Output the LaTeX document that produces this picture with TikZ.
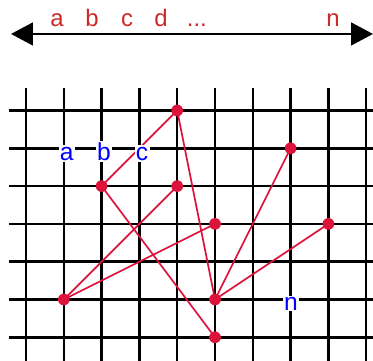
\documentclass[tikz,border=0pt]{standalone}
\usepackage{fontspec}
\setmainfont{Liberation Sans}
\usetikzlibrary{arrows.meta}
\definecolor{crim}{RGB}{220,20,60}
\definecolor{labred}{RGB}{205,40,40}

\begin{document}
\begin{tikzpicture}[line join=round,
    gridline/.style={line width=1.9pt, black},
    link/.style={line width=1.3pt, crim},
    toplab/.style={labred, anchor=base, font=\fontsize{18}{20}\selectfont},
    cell/.style={blue, anchor=base, fill=white, inner sep=1pt, font=\fontsize{18.5}{20}\selectfont}]
    \useasboundingbox (-0.688,-0.627) rectangle (9.18,8.923);

    % Gitter
    \foreach \i in {0,...,9}
        \draw[gridline] (\i,-0.7) -- (\i,6.595);
    \foreach \j in {0,...,6}
        \draw[gridline] (-0.45,\j) -- (9.3,\j);

    % Pfeil oben
    \coordinate (L) at (-0.397,8.024);
    \coordinate (R) at (9.18,8.024);
    \draw[line width=1.8pt, {Triangle[length=0.58cm,width=0.6cm]}-{Triangle[length=0.58cm,width=0.6cm]}] (L) -- (R);
    \node[toplab] (ta) at (0.82,8.217) {a};
    \node[toplab] (tb) at (1.746,8.217) {b};
    \node[toplab] (tc) at (2.672,8.217) {c};
    \node[toplab] (td) at (3.57,8.217) {d};
    \node[toplab] (tdots) at (4.52,8.217) {...};
    \node[toplab] (tn) at (8.12,8.217) {n};

    % Punkte
    \coordinate (A) at (4,6);
    \coordinate (B) at (2,4);
    \coordinate (C) at (4,4);
    \coordinate (D) at (7,5);
    \coordinate (E) at (5,3);
    \coordinate (F) at (8,3);
    \coordinate (G) at (1,1);
    \coordinate (H) at (5,1);
    \coordinate (K) at (5,0);

    \draw[link] (A) -- (B);
    \draw[link] (A) -- (H);
    \draw[link] (B) -- (K);
    \draw[link] (G) -- (C);
    \draw[link] (G) -- (E);
    \draw[link] (H) -- (D);
    \draw[link] (H) -- (F);

    \foreach \p in {A,B,C,D,E,F,G,H,K}
        \fill[crim] (\p) circle (0.155);

    % Beschriftung
    \node[cell] (la) at (1.077,4.69) {a};
    \node[cell] (lb) at (2.063,4.69) {b};
    \node[cell] (lc) at (3.07,4.69) {c};
    \node[cell] (ln) at (7.01,0.72) {n};
\end{tikzpicture}
\end{document}
